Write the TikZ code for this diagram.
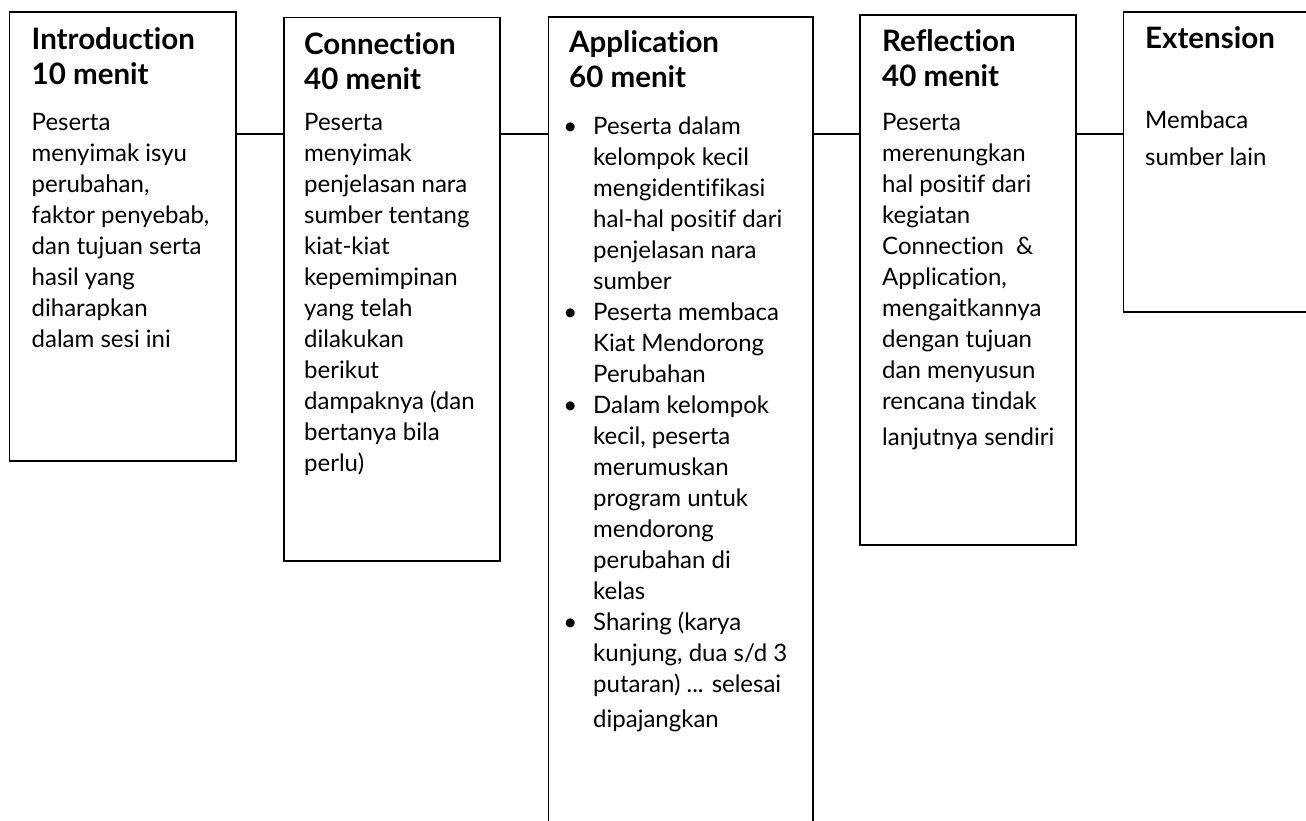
\documentclass[tikz,border=0pt]{standalone}
\usepackage{fontspec}
\setmainfont{Lato}[Ligatures=NoCommon]

\tikzset{
  stagebox/.style={draw=black,line width=1.7pt,inner sep=0pt,outer sep=0pt,anchor=north west},
  stagehead/.style={anchor=north west,inner sep=0pt,align=left,font=\fontsize{29.5}{35}\selectfont\bfseries},
  stagetext/.style={anchor=north west,inner sep=0pt,align=left,font=\fontsize{24}{31}\selectfont},
  link/.style={draw=black,line width=2.7pt}
}

\begin{document}
\begin{tikzpicture}[x=1pt,y=-1pt]
        \useasboundingbox (0,0) rectangle (1306,821);
        \clip (0,0) rectangle (1306,821);

        % the five stages
        \node[stagebox,minimum width=226.5pt,minimum height=449pt] (intro) at (9.5,12) {};
        \node[stagebox,minimum width=216pt,minimum height=543.5pt] (conn) at (284,17.5) {};
        \node[stagebox,minimum width=264.5pt,minimum height=843pt] (appl) at (548.5,17) {};
        \node[stagebox,minimum width=216pt,minimum height=530pt] (refl) at (860,15) {};
        \node[stagebox,minimum width=250pt,minimum height=300pt] (ext) at (1123.5,12) {};

        % headings
        \node[stagehead] (introhead) at (31.5,27.5) {Introduction\\10 menit};
        \node[stagehead] (connhead) at (304,32.5) {Connection\\40 menit};
        \node[stagehead] (applhead) at (569,30.5) {Application\\60 menit};
        \node[stagehead] (reflhead) at (882,29.5) {Reflection\\40 menit};
        \node[stagehead] (exthead) at (1145,26.5) {Extension};

        % texts
        \node[stagetext] (introtext) at (31.5,113.5) {Peserta\\menyimak isyu\\perubahan,\\faktor penyebab,\\dan tujuan serta\\hasil yang\\diharapkan\\dalam sesi ini};
        \node[stagetext] (conntext) at (304,113.5) {Peserta\\menyimak\\penjelasan nara\\sumber tentang\\kiat-kiat\\kepemimpinan\\yang telah\\dilakukan\\berikut\\dampaknya (dan\\bertanya bila\\perlu)};
        \node[stagetext] (appltext) at (593,116.5) {\llap{\textbullet\hspace{16pt}}Peserta dalam\\kelompok kecil\\mengidentifikasi\\hal-hal positif dari\\penjelasan nara\\sumber\\
          \llap{\textbullet\hspace{16pt}}Peserta membaca\\Kiat Mendorong\\Perubahan\\
          \llap{\textbullet\hspace{16pt}}Dalam kelompok\\kecil, peserta\\merumuskan\\program untuk\\mendorong\\perubahan di\\kelas\\
          \llap{\textbullet\hspace{16pt}}Sharing (karya\\kunjung, dua s/d 3\\putaran) ... selesai\\[4pt]dipajangkan};
        \node[stagetext] (refltext) at (882,113.5) {Peserta\\merenungkan\\hal positif dari\\kegiatan\\Connection~~\&\\Application,\\mengaitkannya\\dengan tujuan\\dan menyusun\\rencana tindak\\[5pt]lanjutnya sendiri};
        \node[stagetext] (exttext) at (1145,110.5) {Membaca\\[6pt]sumber lain};

        % links between the stages
        \coordinate (lnk) at (0,134);
        \draw[link] (intro.east |- lnk) -- (conn.west |- lnk);
        \draw[link] (conn.east |- lnk) -- (appl.west |- lnk);
        \draw[link] (appl.east |- lnk) -- (refl.west |- lnk);
        \draw[link] (refl.east |- lnk) -- (ext.west |- lnk);
    \end{tikzpicture}
\end{document}
